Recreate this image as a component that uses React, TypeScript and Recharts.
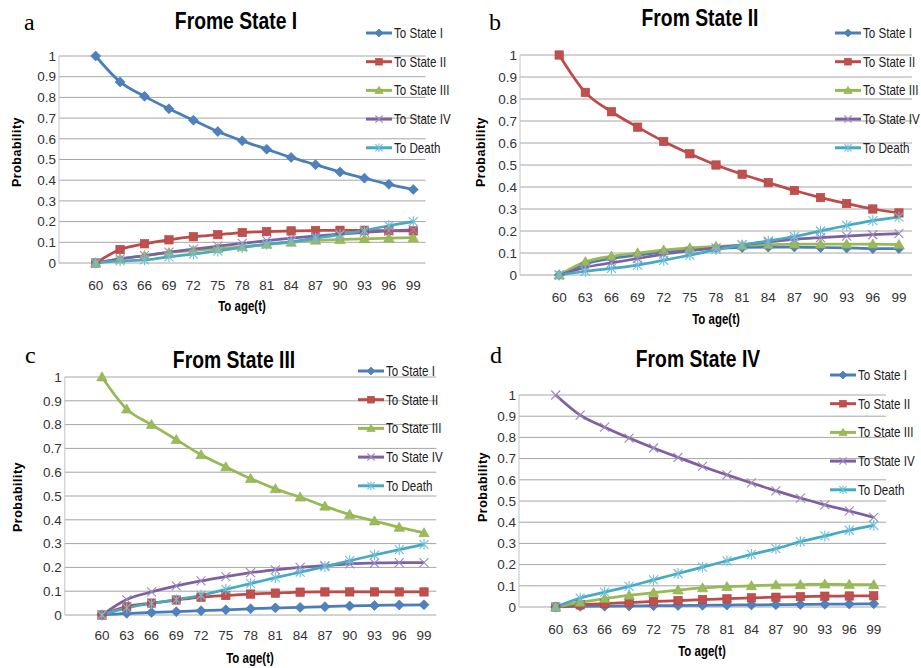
import React from 'react';
import { LineChart, Line, XAxis, YAxis, CartesianGrid } from 'recharts';

// ---------- data ----------
const ages = [60, 63, 66, 69, 72, 75, 78, 81, 84, 87, 90, 93, 96, 99];
const yTicks = [0, 0.1, 0.2, 0.3, 0.4, 0.5, 0.6, 0.7, 0.8, 0.9, 1];
const seriesNames = ['To State I', 'To State II', 'To State III', 'To State IV', 'To Death'];

// a: From State I
const aToI = [1, 0.875, 0.805, 0.745, 0.69, 0.635, 0.59, 0.55, 0.51, 0.475, 0.44, 0.41, 0.38, 0.355];
const aToII = [0, 0.065, 0.093, 0.112, 0.127, 0.137, 0.147, 0.152, 0.155, 0.157, 0.158, 0.158, 0.156, 0.155];
const aToIII = [0, 0.02, 0.035, 0.05, 0.06, 0.07, 0.078, 0.09, 0.1, 0.11, 0.113, 0.117, 0.12, 0.122];
const aToIV = [0, 0.02, 0.036, 0.052, 0.067, 0.081, 0.095, 0.108, 0.12, 0.13, 0.14, 0.148, 0.155, 0.16];
const aToDeath = [0, 0.01, 0.015, 0.03, 0.043, 0.058, 0.075, 0.09, 0.103, 0.12, 0.137, 0.157, 0.18, 0.2];

// b: From State II
const bToI = [0, 0.05, 0.075, 0.09, 0.105, 0.115, 0.122, 0.125, 0.127, 0.127, 0.125, 0.123, 0.12, 0.12];
const bToII = [1, 0.83, 0.742, 0.672, 0.607, 0.551, 0.5, 0.458, 0.42, 0.384, 0.352, 0.325, 0.3, 0.282];
const bToIII = [0, 0.06, 0.085, 0.1, 0.113, 0.123, 0.13, 0.135, 0.138, 0.14, 0.14, 0.14, 0.14, 0.138];
const bToIV = [0, 0.035, 0.055, 0.075, 0.095, 0.11, 0.123, 0.137, 0.15, 0.162, 0.17, 0.177, 0.183, 0.188];
const bToDeath = [0, 0.017, 0.03, 0.045, 0.067, 0.09, 0.115, 0.137, 0.155, 0.175, 0.2, 0.225, 0.247, 0.263];

// c: From State III
const cToI = [0, 0.007, 0.011, 0.014, 0.018, 0.022, 0.026, 0.03, 0.032, 0.035, 0.038, 0.04, 0.042, 0.043];
const cToII = [0, 0.035, 0.05, 0.063, 0.075, 0.082, 0.088, 0.092, 0.096, 0.097, 0.097, 0.097, 0.097, 0.097];
const cToIII = [1, 0.865, 0.8, 0.737, 0.673, 0.622, 0.573, 0.53, 0.495, 0.457, 0.422, 0.395, 0.368, 0.345];
const cToIV = [0, 0.065, 0.097, 0.122, 0.143, 0.161, 0.178, 0.19, 0.2, 0.207, 0.215, 0.218, 0.22, 0.22];
const cToDeath = [0, 0.03, 0.048, 0.065, 0.083, 0.108, 0.132, 0.157, 0.18, 0.203, 0.228, 0.252, 0.275, 0.297];

// d: From State IV
const dToI = [0, 0.003, 0.004, 0.005, 0.006, 0.007, 0.008, 0.009, 0.01, 0.011, 0.012, 0.013, 0.014, 0.015];
const dToII = [0, 0.01, 0.016, 0.021, 0.026, 0.03, 0.035, 0.039, 0.043, 0.046, 0.049, 0.051, 0.052, 0.053];
const dToIII = [0, 0.022, 0.04, 0.055, 0.068, 0.08, 0.09, 0.096, 0.1, 0.104, 0.105, 0.108, 0.106, 0.105];
const dToIV = [1, 0.905, 0.848, 0.797, 0.75, 0.706, 0.663, 0.623, 0.585, 0.548, 0.514, 0.482, 0.453, 0.423];
const dToDeath = [0, 0.042, 0.07, 0.097, 0.128, 0.158, 0.188, 0.218, 0.248, 0.275, 0.308, 0.335, 0.362, 0.385];

// ---------- styles ----------
const lineColors = ['#4A7EBB', '#BE4B48', '#98B954', '#7D60A0', '#46AAC5'];
const markerFill = ['#4F81BD', '#C0504D', '#9BBB59', '#9C87BE', '#6CBFD6'];
const markerShapes = ['diamond', 'square', 'triangle', 'x', 'star'];
const keys = ['s0', 's1', 's2', 's3', 's4'];

const SANS = "'Liberation Sans', Arial, sans-serif";
const SERIF = "'Liberation Serif', 'Times New Roman', serif";

function buildRows(cols: number[][]) {
  return ages.map((age, i) => {
    const row: any = { age };
    cols.forEach((c, k) => (row[keys[k]] = c[i]));
    return row;
  });
}

const panels = [
  {
    letter: 'a', title: 'Frome State I',
    rows: buildRows([aToI, aToII, aToIII, aToIV, aToDeath]),
    ox: 0, oy: 0, W: 460, H: 320, T: 56, B: 263, L: 59, R: 425.5, xtm: 17,
    letterPos: [24, 30], titlePos: [236, 29], probPos: [17, 152], agePos: [242, 311],
    legX: 366, legY: 33,
  },
  {
    letter: 'b', title: 'From State II',
    rows: buildRows([bToI, bToII, bToIII, bToIV, bToDeath]),
    ox: 460, oy: 0, W: 461, H: 320, T: 55, B: 275, L: 520, R: 912, xtm: 17,
    letterPos: [489, 30], titlePos: [700, 26], probPos: [481, 152], agePos: [716, 324],
    legX: 835, legY: 33,
  },
  {
    letter: 'c', title: 'From State III',
    rows: buildRows([cToI, cToII, cToIII, cToIV, cToDeath]),
    ox: 0, oy: 320, W: 460, H: 348, T: 377, B: 615, L: 64.8, R: 436.4, xtm: 15,
    letterPos: [25, 363], titlePos: [234, 368], probPos: [18, 497], agePos: [250, 663],
    legX: 358, legY: 371,
  },
  {
    letter: 'd', title: 'From State IV',
    rows: buildRows([dToI, dToII, dToIII, dToIV, dToDeath]),
    ox: 460, oy: 320, W: 461, H: 348, T: 395, B: 607, L: 519, R: 886, xtm: 17,
    letterPos: [490, 363], titlePos: [698, 367], probPos: [483, 487], agePos: [702, 656],
    legX: 830, legY: 375,
  },
];

function Marker({ shape, cx, cy, fill, s = 1 }: any) {
  if (shape === 'diamond') {
    const r = 5 * s;
    return <polygon points={`${cx},${cy - r} ${cx + r},${cy} ${cx},${cy + r} ${cx - r},${cy}`} fill={fill} stroke="#3F70AD" strokeWidth={0.6} />;
  }
  if (shape === 'square') {
    const r = 4.2 * s;
    return <rect x={cx - r} y={cy - r} width={2 * r} height={2 * r} fill={fill} stroke="#B04440" strokeWidth={0.6} />;
  }
  if (shape === 'triangle') {
    const r = 5.2 * s;
    return <polygon points={`${cx},${cy - r} ${cx + r},${cy + r * 0.75} ${cx - r},${cy + r * 0.75}`} fill={fill} stroke="#8EAD4E" strokeWidth={0.6} />;
  }
  if (shape === 'x') {
    const r = 4.5 * s;
    return (
      <g stroke={fill} strokeWidth={1.1}>
        <line x1={cx - r} y1={cy - r} x2={cx + r} y2={cy + r} />
        <line x1={cx - r} y1={cy + r} x2={cx + r} y2={cy - r} />
      </g>
    );
  }
  const r = 4.5 * s;
  return (
    <g stroke={fill} strokeWidth={1.1}>
      <line x1={cx - r} y1={cy - r} x2={cx + r} y2={cy + r} />
      <line x1={cx - r} y1={cy + r} x2={cx + r} y2={cy - r} />
      <line x1={cx} y1={cy - r * 1.2} x2={cx} y2={cy + r * 1.2} />
    </g>
  );
}

const makeDot = (k: number) => (p: any) => {
  const { cx, cy, index } = p;
  if (cx == null || cy == null) return <g key={`n-${k}-${index}`} />;
  return (
    <g key={`d-${k}-${index}`}>
      <Marker shape={markerShapes[k]} cx={cx} cy={cy} fill={markerFill[k]} />
    </g>
  );
};

const step = ages[1] - ages[0];
const xDomain = [ages[0] - 1.5 * step, ages[ages.length - 1] + 0.5 * step];
const YW = 40;
const XH = 30;

// condensed text (Calibri-like) via horizontal scaling
function NText({ x, y, sx = 0.82, children, ...rest }: any) {
  return (
    <text transform={`translate(${x} ${y}) scale(${sx} 1)`} x={0} y={0} {...rest}>
      {children}
    </text>
  );
}

function Panel({ p }: any) {
  const margin = {
    top: p.T - p.oy,
    bottom: p.oy + p.H - p.B - XH,
    left: p.L - p.ox - YW,
    right: p.ox + p.W - p.R,
  };
  return (
    <div style={{ position: 'absolute', left: p.ox, top: p.oy, width: p.W, height: p.H }}>
      <LineChart width={p.W} height={p.H} data={p.rows} margin={margin}>
        <CartesianGrid vertical={false} stroke="#a6a6a6" strokeWidth={1} />
        <XAxis
          dataKey="age" type="number" domain={xDomain} ticks={ages} interval={0}
          height={XH} tickLine={false} axisLine={false} tickSize={0} tickMargin={p.xtm}
          tick={{ fontSize: 13.5, fill: '#333', fontFamily: SANS }}
        />
        <YAxis
          type="number" domain={[0, 1]} ticks={yTicks} interval={0} width={YW}
          tickLine={false} axisLine={{ stroke: '#c4c4c4' }} tickSize={0} tickMargin={3}
          tick={{ fontSize: 13.5, fill: '#333', fontFamily: SANS }}
        />
        {keys.map((k, i) => (
          <Line
            key={k} dataKey={k} name={seriesNames[i]} type="monotone"
            stroke={lineColors[i]} strokeWidth={2.75} dot={makeDot(i)} activeDot={false}
            isAnimationActive={false}
          />
        ))}
      </LineChart>
    </div>
  );
}

function Overlay() {
  return (
    <svg width={921} height={668} style={{ position: 'absolute', left: 0, top: 0, pointerEvents: 'none' }}>
      {panels.map((p, pi) => (
        <g key={pi}>
          <text x={p.letterPos[0]} y={p.letterPos[1]} fontFamily={SERIF} fontSize={24} fill="#000">{p.letter}</text>
          <NText x={p.titlePos[0]} y={p.titlePos[1]} sx={0.84} fontFamily={SANS} fontWeight="bold" fontSize={23} textAnchor="middle" fill="#000">{p.title}</NText>
          <text
            x={p.probPos[0]} y={p.probPos[1]} fontFamily={SANS} fontWeight="bold" fontSize={12.5}
            letterSpacing={0.5} textAnchor="middle" dominantBaseline="central" fill="#000"
            transform={`rotate(-90 ${p.probPos[0]} ${p.probPos[1]})`}
          >Probability</text>
          <NText x={p.agePos[0]} y={p.agePos[1]} sx={0.82} fontFamily={SANS} fontWeight="bold" fontSize={14} textAnchor="middle" fill="#000">To age(t)</NText>
          {seriesNames.map((n, i) => {
            const y = p.legY + i * 28.7;
            return (
              <g key={n}>
                <line x1={p.legX} y1={y} x2={p.legX + 26} y2={y} stroke={lineColors[i]} strokeWidth={3} />
                <Marker shape={markerShapes[i]} cx={p.legX + 13} cy={y} fill={markerFill[i]} s={0.8} />
                <NText x={p.legX + 28} y={y} sx={0.8} dominantBaseline="central" fontFamily={SANS} fontSize={14.5} fill="#222">{n}</NText>
              </g>
            );
          })}
        </g>
      ))}
    </svg>
  );
}

export default function App() {
  return (
    <div style={{ position: 'absolute', left: 0, top: 0, width: 921, height: 668, background: '#fff', overflow: 'hidden' }}>
      {panels.map((p, i) => (
        <Panel key={i} p={p} />
      ))}
      <Overlay />
    </div>
  );
}
